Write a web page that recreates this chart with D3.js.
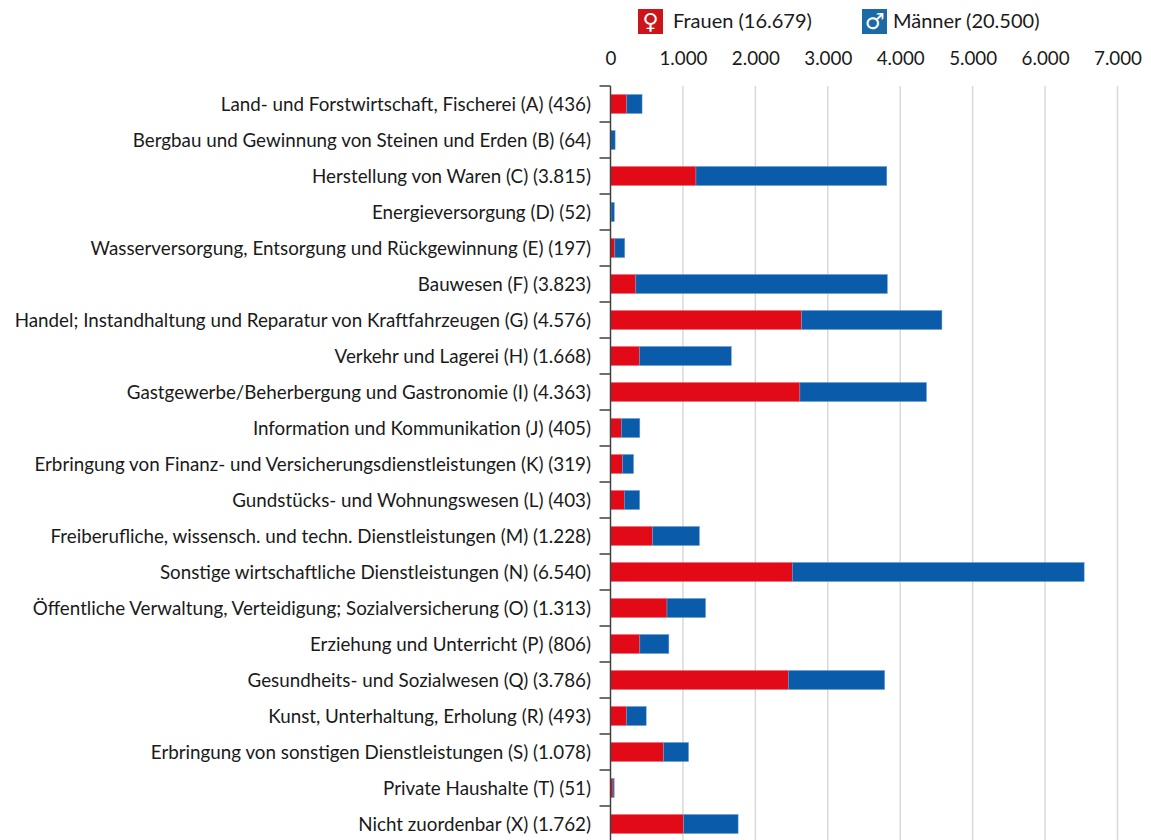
<!DOCTYPE html>
<html lang="de">
<head>
<meta charset="utf-8">
<script src="https://cdn.jsdelivr.net/npm/d3@7"></script>
<style>
  html, body { margin: 0; padding: 0; background: #fff; }
  svg { display: block; }
  text { font-family: Lato, "Open Sans", sans-serif; fill: #1a1a1a; }
</style>
</head>
<body>
<div id="chart"></div>
<script>
// Set dimensions and margins
const width = 1151;
const height = 840;
const margin = {left: 610.5, right: 33.5, top: 86, bottom: -2};

// Chart data
const categories = [
  "Land- und Forstwirtschaft, Fischerei (A) (436)",
  "Bergbau und Gewinnung von Steinen und Erden (B) (64)",
  "Herstellung von Waren (C) (3.815)",
  "Energieversorgung (D) (52)",
  "Wasserversorgung, Entsorgung und Rückgewinnung (E) (197)",
  "Bauwesen (F) (3.823)",
  "Handel; Instandhaltung und Reparatur von Kraftfahrzeugen (G) (4.576)",
  "Verkehr und Lagerei (H) (1.668)",
  "Gastgewerbe/Beherbergung und Gastronomie (I) (4.363)",
  "Information und Kommunikation (J) (405)",
  "Erbringung von Finanz- und Versicherungsdienstleistungen (K) (319)",
  "Gundstücks- und Wohnungswesen (L) (403)",
  "Freiberufliche, wissensch. und techn. Dienstleistungen (M) (1.228)",
  "Sonstige wirtschaftliche Dienstleistungen (N) (6.540)",
  "Öffentliche Verwaltung, Verteidigung; Sozialversicherung (O) (1.313)",
  "Erziehung und Unterricht (P) (806)",
  "Gesundheits- und Sozialwesen (Q) (3.786)",
  "Kunst, Unterhaltung, Erholung (R) (493)",
  "Erbringung von sonstigen Dienstleistungen (S) (1.078)",
  "Private Haushalte (T) (51)",
  "Nicht zuordenbar (X) (1.762)"
];
const frauen = [225, 5, 1180, 8, 60, 350, 2640, 400, 2615, 150, 165, 190, 580, 2510, 780, 405, 2455, 220, 735, 35, 1010];
const maenner = [211, 59, 2635, 44, 137, 3473, 1936, 1268, 1748, 255, 154, 213, 648, 4030, 533, 401, 1331, 273, 343, 16, 752];
const xTicks = [0, 1000, 2000, 3000, 4000, 5000, 6000, 7000];
const legendLabels = ["Frauen (16.679)", "Männer (20.500)"];
const legendSymbols = ["\u2640", "\u2642"];

const fontSize = 18.8;

const svg = d3.select("#chart")
  .append("svg")
  .attr("width", width)
  .attr("height", height);

// scales
const xScale = d3.scaleLinear()
  .domain([0, 7000])
  .range([margin.left, width - margin.right]);

const yScale = d3.scaleBand()
  .domain(d3.range(categories.length))
  .range([margin.top, height - margin.bottom])
  .paddingInner(0.47)
  .paddingOuter(0.235);

// gridlines
svg.append("g")
  .selectAll("line")
  .data(xTicks.slice(1))
  .enter()
  .append("line")
    .attr("x1", d => xScale(d))
    .attr("x2", d => xScale(d))
    .attr("y1", margin.top)
    .attr("y2", height)
    .attr("stroke", "#d9d9d9")
    .attr("stroke-width", 1.5);

// x axis labels on top, no line
const xAxis = svg.append("g")
  .attr("transform", "translate(0,65)")
  .call(d3.axisTop(xScale)
    .tickValues(xTicks)
    .tickSize(0)
    .tickPadding(0)
    .tickFormat(d => d3.format(",")(d).replace(/,/g, ".")));
xAxis.select(".domain").remove();
xAxis.selectAll("text").attr("font-size", fontSize).style("font-family", "Lato");

// bars
svg.append("g")
  .selectAll("rect")
  .data(frauen)
  .enter()
  .append("rect")
    .attr("x", xScale(0))
    .attr("y", (d, i) => yScale(i))
    .attr("width", d => xScale(d) - xScale(0))
    .attr("height", yScale.bandwidth())
    .attr("fill", "#e30a18")
    .attr("stroke", "#f0707a")
    .attr("stroke-width", 0.5);

svg.append("g")
  .selectAll("rect")
  .data(maenner)
  .enter()
  .append("rect")
    .attr("x", (d, i) => xScale(frauen[i]))
    .attr("y", (d, i) => yScale(i))
    .attr("width", (d, i) => xScale(frauen[i] + d) - xScale(frauen[i]))
    .attr("height", yScale.bandwidth())
    .attr("fill", "#0a5caa")
    .attr("stroke", "#6ea3d4")
    .attr("stroke-width", 0.5);

// y axis with ticks between the categories
const bandStep = yScale.step();
const yAxisLine = svg.append("g").attr("stroke", "#404040");
yAxisLine.append("line")
  .attr("x1", xScale(0)).attr("x2", xScale(0))
  .attr("y1", margin.top).attr("y2", height)
  .attr("stroke-width", 1.5);
yAxisLine.selectAll(".tick")
  .data(d3.range(categories.length + 1))
  .enter()
  .append("line")
    .attr("class", "tick")
    .attr("x1", xScale(0) - 11)
    .attr("x2", xScale(0))
    .attr("y1", d => margin.top + d * bandStep)
    .attr("y2", d => margin.top + d * bandStep)
    .attr("stroke-width", 1.5);

// category labels
svg.append("g")
  .selectAll("text")
  .data(categories)
  .enter()
  .append("text")
    .attr("x", 591)
    .attr("y", (d, i) => yScale(i) + yScale.bandwidth() / 2)
    .attr("dy", "0.36em")
    .attr("text-anchor", "end")
    .attr("font-size", fontSize)
    .text(d => d);

// legend
const legendColors = ["#cc1518", "#1c6aa5"];
const legendX = [638, 862];
const legend = svg.append("g")
  .selectAll("g")
  .data(legendLabels)
  .enter()
  .append("g")
    .attr("transform", (d, i) => `translate(${legendX[i]},9)`);

legend.append("rect")
  .attr("width", 25)
  .attr("height", 25)
  .attr("fill", (d, i) => legendColors[i]);

legend.append("text")
  .attr("x", 12.5)
  .attr("y", 20)
  .attr("text-anchor", "middle")
  .attr("font-size", 22)
  .style("font-family", "DejaVu Sans")
  .style("fill", "#fff")
  .text((d, i) => legendSymbols[i]);

legend.append("text")
  .attr("x", (d, i) => i === 0 ? 35 : 31)
  .attr("y", 19)
  .attr("font-size", 20)
  .text(d => d);
</script>
</body>
</html>
